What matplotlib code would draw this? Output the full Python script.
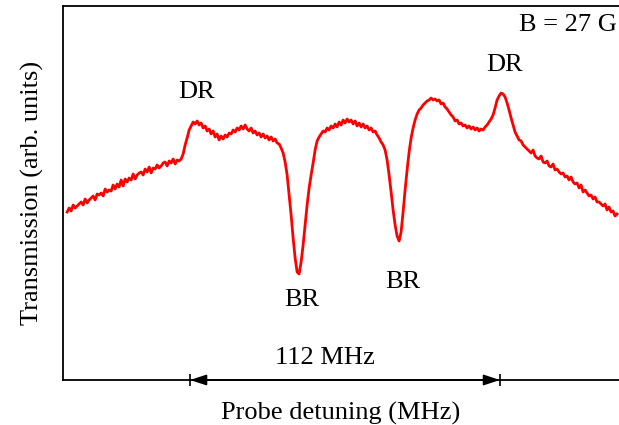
import numpy as np
from matplotlib import pyplot as plt

# probe sweep, start/stop detuning in MHz
sweep_start = -100.4
sweep_stop = 98.3

# transmission trace (arb. units)
transmission = [
    168, 172, 169, 175, 172, 174, 176, 178, 175, 181,
    177, 180, 182, 184, 180, 186, 185, 187, 184, 191,
    188, 190, 189, 195, 191, 196, 193, 200, 194, 201,
    198, 202, 200, 206, 201, 205, 207, 208, 205, 211,
    208, 213, 207, 212, 211, 215, 212, 214, 217, 218,
    214, 219, 217, 221, 216, 220, 219, 221, 226, 235,
    242, 250, 254, 258, 256, 259, 255, 257, 252, 254,
    249, 251, 246, 249, 243, 246, 240, 244, 241, 245,
    243, 247, 246, 250, 248, 252, 250, 254, 251, 255,
    251, 249, 252, 247, 249, 245, 247, 243, 246, 242,
    244, 240, 243, 239, 241, 237, 236, 232, 227, 218,
    205, 185, 165, 142, 122, 108, 106,
    118, 135, 155, 175, 192, 205, 217, 230, 239, 243,
    246, 249, 248, 252, 250, 254, 252, 256, 253, 258,
    255, 260, 257, 261, 258, 260, 256, 259, 254, 257,
    253, 256, 252, 254, 250, 252, 248, 249, 245, 242,
    238, 235, 230, 220, 205, 188, 170, 155, 144, 139,
    148, 168, 190, 210, 228, 242, 252, 260, 266, 270,
    272, 275, 277, 279, 280, 282, 280, 281, 279, 280,
    276, 277, 273, 271, 268, 265, 263, 259, 260, 256,
    257, 254, 255, 252, 254, 251, 253, 250, 252, 249,
    251, 250, 253, 255, 258, 261, 265, 272, 280, 284,
    287, 286, 283, 277, 270, 262, 255, 248, 244, 240,
    239, 235, 233, 231, 229, 227, 230, 224, 222, 221,
    224, 218, 217, 219, 214, 213, 216, 210, 211, 208,
    206, 207, 203, 204, 200, 203, 198, 196, 197, 192,
    195, 188, 190, 187, 184, 185, 181, 183, 178, 178,
    176, 174, 176, 170, 173, 168, 169, 164, 166,
]
detuning = np.linspace(sweep_start, sweep_stop, len(transmission))

# resonance labels: (text, detuning, transmission)
labels = [("DR", -53.5, 288), ("DR", 57.8, 315), ("BR", -15.5, 80), ("BR", 21.0, 98)]
dr_split = 112  # MHz between the two DR peaks

plt.rcParams['font.family'] = ['Liberation Serif', 'DejaVu Serif']
plt.rcParams['font.size'] = 19

fig = plt.figure(figsize=(6.19, 4.25), dpi=100)
ax = fig.add_axes([0.1018, 0.1059, 0.8982, 0.8800])

ax.plot(detuning, transmission, color='#ff0000', lw=2.0)

for text, x, y in labels:
    ax.text(x, y, text, ha='center', va='center')

ax.text(0.996, 0.949, "B = 27 G", transform=ax.transAxes, ha='right', va='center')

# 112 MHz marker on the axis
ax.annotate('', xy=(dr_split / 2, 0), xytext=(-dr_split / 2, 0),
            arrowprops=dict(arrowstyle='<|-|>,head_length=0.55,head_width=0.18',
                            color='black', lw=1.2, shrinkA=0, shrinkB=0,
                            mutation_scale=18),
            annotation_clip=False)
ax.text(-7.2, 22, f"{dr_split} MHz", ha='center', va='center')

ax.set_xlim(-101.9, 99.0)
ax.set_ylim(0, 374)
ax.set_xticks([-dr_split / 2, dr_split / 2])
ax.set_xticklabels([])
ax.set_yticks([])
ax.tick_params(axis='x', direction='inout', length=9, width=1.2)
ax.spines['right'].set_visible(False)
for s in ['left', 'top', 'bottom']:
    ax.spines[s].set_linewidth(1.3)

ax.set_xlabel('Probe detuning (MHz)', labelpad=8)
ax.set_ylabel('Transmission (arb. units)', labelpad=14)

fig.savefig('out.png', dpi=100)
